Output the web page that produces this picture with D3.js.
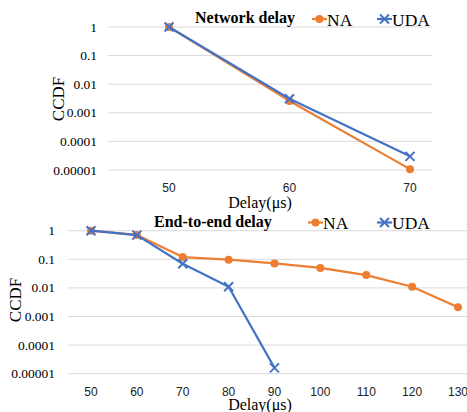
<!DOCTYPE html>
<html>
<head>
<meta charset="utf-8">
<script src="https://cdn.jsdelivr.net/npm/d3@7"></script>
<style>
  body { margin: 0; background: #fff; }
  svg { display: block; }
  .serif { font-family: "Liberation Serif", "Times New Roman", serif; fill: #000; }
  .sans { font-family: "Liberation Sans", Arial, sans-serif; fill: #222; }
</style>
</head>
<body>
<svg id="chart" width="467" height="412"></svg>
<script>
// shared tick labels
var yTickValues = [1, 0.1, 0.01, 0.001, 0.0001, 0.00001];
var yTickLabels = ["1", "0.1", "0.01", "0.001", "0.0001", "0.00001"];
var seriesNames = ["NA", "UDA"];

// network delay panel
var netDelays = [50, 60, 70];
var netNA = [1, 0.0026, 0.0000107];
var netUDA = [1, 0.0031, 0.00003];

// end-to-end delay panel
var e2eDelays = [50, 60, 70, 80, 90, 100, 110, 120, 130];
var e2eNA = [1, 0.71, 0.12, 0.097, 0.072, 0.05, 0.028, 0.011, 0.0021];
var e2eUDA = [1, 0.7, 0.07, 0.011, 0.000016];

var colors = { NA: "#ED7D31", UDA: "#4472C4" };

var svg = d3.select("#chart");

function drawPanel(cfg) {
    var g = svg.append("g");

    var x = d3.scalePoint().domain(cfg.cats).range([cfg.x0, cfg.x1]);
    var y = d3.scaleLog().domain([1e-5, 1]).range([cfg.yBottom, cfg.yTop]);

    // horizontal gridlines
    g.selectAll(".grid").data(yTickValues).enter().append("line")
        .attr("x1", cfg.gx0).attr("x2", cfg.gx1)
        .attr("y1", function(d) { return y(d); })
        .attr("y2", function(d) { return y(d); })
        .attr("stroke", "#d9d9d9").attr("stroke-width", 1);

    // y tick labels
    g.selectAll(".ylab").data(yTickValues).enter().append("text")
        .attr("class", "serif")
        .attr("x", cfg.yLabX)
        .attr("y", function(d) { return y(d) + 4.5; })
        .attr("text-anchor", "end")
        .style("font-size", "13.5px")
        .text(function(d, i) { return yTickLabels[i]; });

    // x tick labels
    g.selectAll(".xlab").data(cfg.cats).enter().append("text")
        .attr("class", "sans")
        .attr("x", function(d) { return x(d); })
        .attr("y", cfg.xLabY)
        .attr("text-anchor", "middle")
        .style("font-size", "12px")
        .text(function(d) { return d; });

    // axis titles
    g.append("text").attr("class", "serif")
        .attr("transform", "translate(" + cfg.ccdfX + "," + cfg.ccdfY + ") rotate(-90)")
        .attr("text-anchor", "middle")
        .style("font-size", "17px")
        .text("CCDF");

    g.append("text").attr("class", "serif")
        .attr("x", 260).attr("y", cfg.delayY)
        .attr("text-anchor", "middle")
        .style("font-size", "16px")
        .text("Delay(μs)");

    // title
    g.append("text").attr("class", "serif")
        .attr("x", cfg.titleX).attr("y", cfg.titleY)
        .style("font-size", "16px").style("font-weight", "bold")
        .text(cfg.title);

    // series
    var series = [
        { name: "NA", values: cfg.na },
        { name: "UDA", values: cfg.uda }
    ];
    var line = d3.line()
        .x(function(d) { return x(d.cat); })
        .y(function(d) { return y(d.v); });

    series.forEach(function(s) {
        var pts = s.values.map(function(v, i) { return { cat: cfg.cats[i], v: v }; });
        g.append("path").datum(pts)
            .attr("d", line)
            .attr("fill", "none")
            .attr("stroke", colors[s.name])
            .attr("stroke-width", 2.2)
            .attr("stroke-linejoin", "round");
        pts.forEach(function(p) {
            drawMarker(g, s.name, x(p.cat), y(p.v));
        });
    });

    // legend
    seriesNames.forEach(function(name, i) {
        var lx = cfg.legendX[i];
        g.append("line")
            .attr("x1", lx).attr("x2", lx + 15)
            .attr("y1", cfg.legendY).attr("y2", cfg.legendY)
            .attr("stroke", colors[name]).attr("stroke-width", 2.2);
        drawMarker(g, name, lx + 7.5, cfg.legendY);
        g.append("text").attr("class", "serif")
            .attr("x", lx + 15).attr("y", cfg.legendY + 6.5)
            .style("font-size", "17.5px")
            .text(name);
    });
}

function drawMarker(g, name, cx, cy) {
    if (name === "NA") {
        g.append("circle")
            .attr("cx", cx).attr("cy", cy).attr("r", 4)
            .attr("fill", colors.NA);
    } else {
        var s = 4.5;
        g.append("path")
            .attr("d", "M" + (cx - s) + "," + (cy - s) + "L" + (cx + s) + "," + (cy + s) +
                       "M" + (cx - s) + "," + (cy + s) + "L" + (cx + s) + "," + (cy - s))
            .attr("stroke", colors.UDA).attr("stroke-width", 2);
    }
}

drawPanel({
    cats: netDelays, na: netNA, uda: netUDA,
    x0: 169, x1: 410, gx0: 108, gx1: 432,
    yTop: 27, yBottom: 170,
    yLabX: 97, xLabY: 192,
    ccdfX: 64, ccdfY: 99, delayY: 208,
    title: "Network delay", titleX: 195, titleY: 23,
    legendX: [312, 377], legendY: 19
});

drawPanel({
    cats: e2eDelays, na: e2eNA, uda: e2eUDA,
    x0: 91, x1: 458, gx0: 68, gx1: 467,
    yTop: 230.7, yBottom: 373.7,
    yLabX: 55, xLabY: 396,
    ccdfX: 21, ccdfY: 300, delayY: 410,
    title: "End-to-end delay", titleX: 154, titleY: 227,
    legendX: [308, 377], legendY: 222.5
});
</script>
</body>
</html>
